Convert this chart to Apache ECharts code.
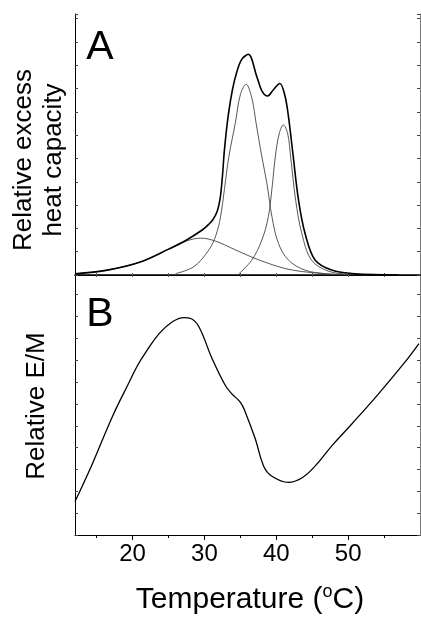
<!DOCTYPE html>
<html>
<head>
<meta charset="utf-8">
<script src="https://cdn.jsdelivr.net/npm/echarts@6/dist/echarts.min.js"></script>
<style>
  html, body { margin: 0; padding: 0; background: #fff; }
  #chart { width: 421px; height: 618px; }
</style>
</head>
<body>
<div id="chart"></div>
<script>
// panel A: excess heat capacity (relative units, 1 unit = one left tick)
const tempTotal = [12, 16.5, 21.2, 25.1, 27.4, 29.7, 30.6, 31.2, 31.8, 32.2, 32.5, 32.8, 33.3, 33.9, 34.5, 35.2, 36.1, 37.3, 38.0, 38.8, 39.6, 40.5, 41.2, 41.7, 42.3, 43.1, 44.0, 45.4, 47.7, 50.9, 57];
const capTotal  = [0.05, 0.21, 0.57, 1.12, 1.48, 1.93, 2.17, 2.38, 2.75, 3.3, 4.2, 5.4, 6.8, 7.94, 8.7, 9.25, 9.47, 8.51, 7.9, 7.68, 7.95, 8.22, 7.7, 6.8, 5.25, 3.21, 1.79, 0.64, 0.21, 0.05, 0];

const tempComp1 = [12, 16.5, 21.2, 25.1, 27.5, 29.5, 31.5, 34.3, 36.5, 38.9, 41.2, 43.55, 47, 50];
const capComp1  = [0.05, 0.21, 0.57, 1.12, 1.46, 1.58, 1.46, 1.08, 0.78, 0.5, 0.28, 0.15, 0.05, 0.01];

const tempComp2 = [26.0, 28.55, 30.63, 31.6, 32.25, 32.8, 33.4, 34.3, 35.0, 35.8, 36.6, 37.2, 38.0, 38.7, 39.4, 40.3, 41.7, 44.0, 47, 50];
const capComp2  = [0.06, 0.36, 1.08, 1.7, 2.5, 3.7, 5.07, 6.51, 7.73, 8.19, 7.6, 6.51, 5.07, 3.93, 2.5, 1.36, 0.64, 0.21, 0.05, 0];

const tempComp3 = [34.8, 36.6, 38.0, 38.9, 39.4, 39.87, 40.4, 41.0, 41.6, 42.0, 42.7, 43.55, 44.9, 47.2, 50, 53];
const capComp3  = [0.05, 0.64, 1.5, 2.5, 3.7, 5.07, 6.05, 6.44, 6.05, 5.07, 3.21, 1.79, 0.64, 0.17, 0.03, 0];

// panel B: relative E/M
const tempEM = [12, 14.47, 17.24, 19.55, 20.7, 21.86, 23.7, 25.55, 27.17, 28.1, 29.24, 31.09, 32.94, 33.86, 35.02, 35.71, 37.1, 38.25, 39.4, 41.7, 43.55, 45.4, 47.7, 50.48, 54.2, 57.9, 59.85];
const valEM  = [1.53, 3.3, 5.45, 7.0, 7.76, 8.37, 9.22, 9.76, 9.95, 9.91, 9.53, 8.06, 6.83, 6.45, 6.07, 5.61, 4.38, 3.15, 2.69, 2.41, 2.61, 3.15, 4.07, 5.07, 6.45, 7.91, 8.76];

const majorTicks = [20, 30, 40, 50];
const minorTicks = [15, 25, 35, 45, 55];
const allTicks = [15, 20, 25, 30, 35, 40, 45, 50, 55];

const font = 'Liberation Sans, Arial, sans-serif';
const zip = (xs, ys) => xs.map((x, i) => [x, ys[i]]);

const chart = echarts.init(document.getElementById('chart'));

// axis helpers
const xBase = (grid, pos, extra) => Object.assign({
  type: 'value', gridIndex: grid, position: pos, min: 12, max: 60,
  axisLine: { show: true, lineStyle: { color: '#000', width: 1 } },
  axisTick: { show: true, inside: true, length: 2, customValues: allTicks, lineStyle: { color: '#555' } },
  axisLabel: { show: false },
  splitLine: { show: false }
}, extra);

const yBase = (grid, pos, max, color) => ({
  type: 'value', gridIndex: grid, position: pos, min: 0, max: max, interval: 1,
  axisLine: { show: true, lineStyle: { color: color, width: 1 } },
  axisTick: { show: true, inside: true, length: 3, lineStyle: { color: '#444' } },
  axisLabel: { show: false },
  splitLine: { show: false }
});

const thin = { color: '#444', width: 0.9 };

chart.setOption({
  animation: false,
  grid: [
    { left: 75, top: 14, width: 345, height: 261 },
    { left: 75, top: 275, width: 345, height: 260 }
  ],
  xAxis: [
    xBase(0, 'bottom', { axisLine: { show: true, lineStyle: { color: '#000', width: 1.5 } } }),
    xBase(0, 'top'),
    xBase(1, 'bottom', {
      axisTick: { show: true, inside: false, length: 5, customValues: majorTicks, lineStyle: { color: '#000' } },
      axisLabel: { show: true, customValues: majorTicks, margin: 7, fontSize: 24, color: '#000', fontFamily: font }
    }),
    xBase(1, 'bottom', {
      axisLine: { show: false },
      axisTick: { show: true, inside: false, length: 3, customValues: minorTicks, lineStyle: { color: '#000' } }
    }),
    xBase(1, 'top', { axisLine: { show: false } })
  ],
  yAxis: [
    yBase(0, 'left', 11.2, '#000'),
    yBase(0, 'right', 11.2, '#777'),
    yBase(1, 'left', 11.9, '#000'),
    yBase(1, 'right', 11.9, '#777')
  ],
  series: [
    { type: 'line', xAxisIndex: 0, yAxisIndex: 0, data: zip(tempComp1, capComp1), showSymbol: false, smooth: 0.35, lineStyle: thin },
    { type: 'line', xAxisIndex: 0, yAxisIndex: 0, data: zip(tempComp2, capComp2), showSymbol: false, smooth: 0.35, lineStyle: thin },
    { type: 'line', xAxisIndex: 0, yAxisIndex: 0, data: zip(tempComp3, capComp3), showSymbol: false, smooth: 0.35, lineStyle: thin },
    { type: 'line', xAxisIndex: 0, yAxisIndex: 0, data: zip(tempTotal, capTotal), showSymbol: false, smooth: 0.35, lineStyle: { color: '#000', width: 1.6 } },
    { type: 'line', xAxisIndex: 2, yAxisIndex: 2, data: zip(tempEM, valEM), showSymbol: false, smooth: 0.4, lineStyle: { color: '#000', width: 1.3 } }
  ],
  graphic: [
    { type: 'text', x: 100, y: 48, style: { text: 'A', font: '41px ' + font, fill: '#000', align: 'center', verticalAlign: 'middle', textAlign: 'center', textVerticalAlign: 'middle' } },
    { type: 'text', x: 100, y: 315, style: { text: 'B', font: '41px ' + font, fill: '#000', align: 'center', verticalAlign: 'middle', textAlign: 'center', textVerticalAlign: 'middle' } },
    { type: 'text', x: 39, y: 160, rotation: Math.PI / 2, style: { text: 'Relative excess\nheat capacity', font: '26px ' + font, lineHeight: 30, fill: '#000', align: 'center', verticalAlign: 'middle', textAlign: 'center', textVerticalAlign: 'middle' } },
    { type: 'text', x: 37, y: 406, rotation: Math.PI / 2, style: { text: 'Relative E/M', font: '26px ' + font, fill: '#000', align: 'center', verticalAlign: 'middle', textAlign: 'center', textVerticalAlign: 'middle' } },
    { type: 'text', x: 250, y: 600, style: {
        text: 'Temperature ({sup|o}C)', font: '30px ' + font, fill: '#000', lineHeight: 34,
        align: 'center', verticalAlign: 'middle', textAlign: 'center', textVerticalAlign: 'middle',
        rich: { sup: { fontSize: 18, fontFamily: font, verticalAlign: 'top', lineHeight: 20 } }
    } }
  ]
});
</script>
</body>
</html>
